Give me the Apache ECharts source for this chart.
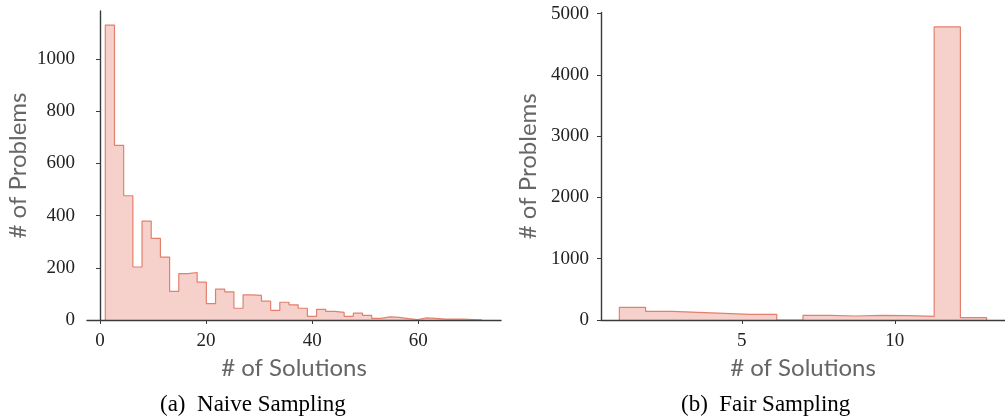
<!DOCTYPE html>
<html>
<head>
<meta charset="utf-8">
<script src="https://cdn.jsdelivr.net/npm/echarts@6/dist/echarts.min.js"></script>
<style>
  html, body { margin: 0; padding: 0; background: #fff; }
  #chart { width: 1005px; height: 419px; }
</style>
</head>
<body>
<div id="chart"></div>
<script>
// histogram (a): naive sampling, 41 bins from 1 to 72
const naiveBinStart = 1;
const naiveBinWidth = 71 / 41;
const naiveCounts = [
  1130, 669, 476, 203, 379, 313, 241, 110, 178, 182,
  145, 63, 118, 108, 45, 96, 94, 72, 37, 68,
  58, 45, 14, 41, 33, 29, 14, 26, 18, 6,
  12, 10, 5, 2, 8, 6, 3, 3, 3, 2, 1
];
const naiveXTicks = [0, 20, 40, 60];
const naiveYTicks = [0, 200, 400, 600, 800, 1000];

// histogram (b): fair sampling, 14 bins from 1 to 13
const fairBinStart = 1;
const fairBinWidth = 12 / 14;
const fairCounts = [207, 141, 125, 109, 93, 93, 0, 76, 65, 75, 71, 60, 4784, 38];
const fairXTicks = [5, 10];
const fairYTicks = [0, 1000, 2000, 3000, 4000, 5000];

const fillColor = '#f6d0ca';
const edgeColor = '#e3806d';
const axisColor = '#3a3a3a';
const tickFont = 'Liberation Serif';
const nameFont = 'Lato';

// step outline points: left edge of each bin, plus closing points on the baseline
function stepPoints(start, width, counts) {
  const pts = [[start, 0]];
  counts.forEach(function (c, i) { pts.push([start + i * width, c]); });
  pts.push([start + counts.length * width, 0]);
  return pts;
}

function plain(v) { return String(v); }

function xAxisOpt(idx, min, max, ticks) {
  return {
    type: 'value', gridIndex: idx, min: min, max: max, z: 5,
    name: '# of Solutions', nameLocation: 'middle', nameGap: 30,
    nameTextStyle: { fontFamily: nameFont, fontSize: 24, color: '#666' },
    axisLine: { show: true, onZero: false, lineStyle: { color: axisColor, width: 1.4 } },
    axisTick: { show: true, length: 4, customValues: ticks, lineStyle: { color: axisColor } },
    axisLabel: { customValues: ticks, margin: 12, formatter: plain,
      fontFamily: tickFont, fontSize: 19, color: '#222' },
    splitLine: { show: false }
  };
}

function yAxisOpt(idx, max, ticks, gap) {
  return {
    type: 'value', gridIndex: idx, min: 0, max: max, z: 5,
    name: '# of Problems', nameLocation: 'middle', nameGap: gap, nameRotate: 90,
    nameTextStyle: { fontFamily: nameFont, fontSize: 24, color: '#666' },
    axisLine: { show: true, lineStyle: { color: axisColor, width: 1.4 } },
    axisTick: { show: true, length: 4, customValues: ticks, lineStyle: { color: axisColor } },
    axisLabel: { customValues: ticks, margin: 12, formatter: plain,
      fontFamily: tickFont, fontSize: 19, color: '#222' },
    splitLine: { show: false }
  };
}

function histSeries(idx, pts) {
  return {
    type: 'line', xAxisIndex: idx, yAxisIndex: idx,
    step: 'end', data: pts, showSymbol: false, silent: true,
    lineStyle: { color: edgeColor, width: 1.2 },
    areaStyle: { color: fillColor, opacity: 1 }
  };
}

const chart = echarts.init(document.getElementById('chart'), null, { renderer: 'canvas' });
chart.setOption({
  animation: false,
  backgroundColor: '#fff',
  grid: [
    { left: 87, top: 11, width: 414, height: 309 },
    { left: 601, top: 12.5, width: 413, height: 307.5 }
  ],
  xAxis: [
    xAxisOpt(0, -2.45, 75.6, naiveXTicks),
    xAxisOpt(1, 0.4, 13.6, fairXTicks)
  ],
  yAxis: [
    yAxisOpt(0, 1184, naiveYTicks, 57),
    yAxisOpt(1, 5020, fairYTicks, 61)
  ],
  series: [
    histSeries(0, stepPoints(naiveBinStart, naiveBinWidth, naiveCounts)),
    histSeries(1, stepPoints(fairBinStart, fairBinWidth, fairCounts))
  ],
  graphic: [
    { type: 'text', left: 160, top: 393,
      style: { text: '(a)  Naive Sampling', font: '23px "Liberation Serif"', fill: '#000' } },
    { type: 'text', left: 681, top: 393,
      style: { text: '(b)  Fair Sampling', font: '23px "Liberation Serif"', fill: '#000' } }
  ]
});
</script>
</body>
</html>
